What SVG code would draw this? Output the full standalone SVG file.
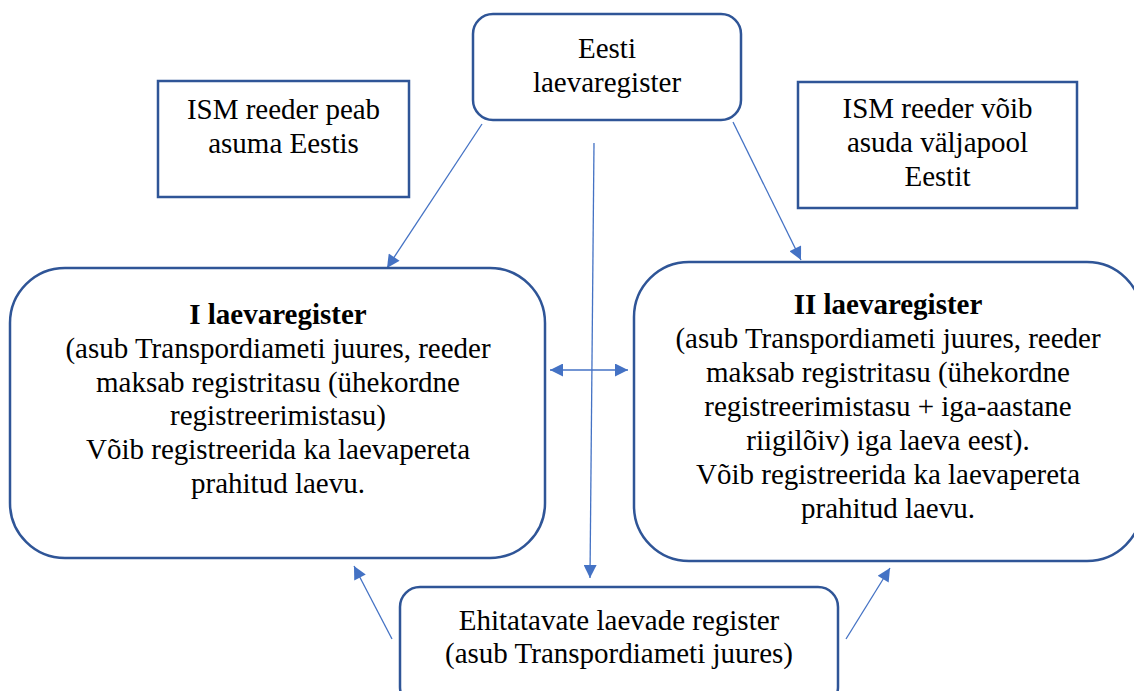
<svg xmlns="http://www.w3.org/2000/svg" width="1134" height="691" viewBox="0 0 1134 691">
<defs>
<style>
.box{fill:#ffffff;stroke:#2F5597;stroke-width:2.5}
.t{font-family:"Liberation Serif","Times New Roman",serif;font-size:29px;fill:#000;text-anchor:middle}
.b{font-weight:bold}
.c{stroke:#4472C4;stroke-width:1.3;fill:none;marker-end:url(#ah)}
</style>
<marker id="ah" viewBox="0 0 10 10" refX="10" refY="5" markerWidth="15" markerHeight="13" markerUnits="userSpaceOnUse" orient="auto-start-reverse">
<path d="M0,0 L10,5 L0,10 Z" fill="#4472C4"/>
</marker>
</defs>
<rect width="1134" height="691" fill="#ffffff"/>
<g id="connectors">
<line class="c" x1="482" y1="124" x2="387" y2="268"/>
<line class="c" x1="733" y1="122" x2="801" y2="260"/>
<line class="c" x1="594" y1="143" x2="590" y2="578"/>
<line class="c" x1="550" y1="370" x2="628" y2="370" style="marker-start:url(#ah)"/>
<line class="c" x1="392" y1="639" x2="354" y2="566"/>
<line class="c" x1="846" y1="639" x2="890" y2="568"/>
</g>
<g id="eesti">
<rect class="box" x="473" y="14" width="268" height="106" rx="20"/>
<text class="t" x="607" y="58">Eesti</text>
<text class="t" x="607" y="92">laevaregister</text>
</g>
<g id="ism-left">
<rect class="box" x="158" y="81" width="251" height="116"/>
<text class="t" x="283.5" y="119">ISM reeder peab</text>
<text class="t" x="283.5" y="153">asuma Eestis</text>
</g>
<g id="ism-right">
<rect class="box" x="798" y="82" width="279" height="126"/>
<text class="t" x="937.5" y="118">ISM reeder võib</text>
<text class="t" x="937.5" y="152">asuda väljapool</text>
<text class="t" x="937.5" y="186">Eestit</text>
</g>
<g id="register1">
<rect class="box" x="10" y="268" width="535" height="290" rx="55"/>
<text class="t b" x="278" y="324">I laevaregister</text>
<text class="t" x="278" y="358">(asub Transpordiameti juures, reeder</text>
<text class="t" x="278" y="392">maksab registritasu (ühekordne</text>
<text class="t" x="278" y="425">registreerimistasu)</text>
<text class="t" x="278" y="459">Võib registreerida ka laevapereta</text>
<text class="t" x="278" y="493">prahitud laevu.</text>
</g>
<g id="register2">
<rect class="box" x="634" y="262" width="508" height="299" rx="55"/>
<text class="t b" x="888" y="314">II laevaregister</text>
<text class="t" x="888" y="348">(asub Transpordiameti juures, reeder</text>
<text class="t" x="888" y="382">maksab registritasu (ühekordne</text>
<text class="t" x="888" y="416">registreerimistasu + iga-aastane</text>
<text class="t" x="888" y="450">riigilõiv) iga laeva eest).</text>
<text class="t" x="888" y="484">Võib registreerida ka laevapereta</text>
<text class="t" x="888" y="518">prahitud laevu.</text>
</g>
<g id="ehitatavad">
<rect class="box" x="400" y="587" width="438" height="120" rx="20"/>
<text class="t" x="619" y="630">Ehitatavate laevade register</text>
<text class="t" x="619" y="663">(asub Transpordiameti juures)</text>
</g>
</svg>
